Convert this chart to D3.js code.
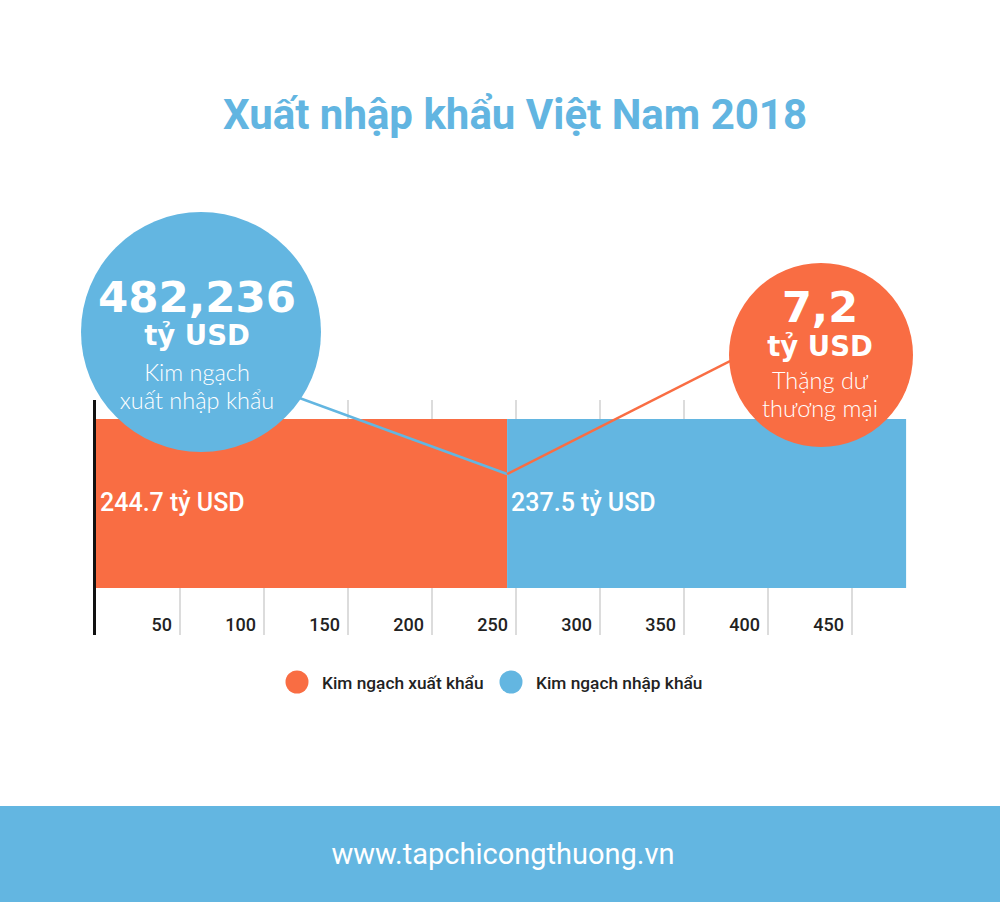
<!DOCTYPE html>
<html>
<head>
<meta charset="utf-8">
<script src="https://cdn.jsdelivr.net/npm/d3@7/dist/d3.min.js"></script>
<style>
  html, body { margin: 0; padding: 0; background: #fff; }
  svg { display: block; }
</style>
</head>
<body>
<svg id="chart" width="1000" height="902"></svg>
<script>
// ---- data ----
const title = "Xuất nhập khẩu Việt Nam 2018";
const seriesNames = ["Kim ngạch xuất khẩu", "Kim ngạch nhập khẩu"];
const seriesValues = [244.7, 237.5];
const barLabels = ["244.7 tỷ USD", "237.5 tỷ USD"];
const tickValues = [50, 100, 150, 200, 250, 300, 350, 400, 450];
const totalLines = ["482,236", "tỷ USD", "Kim ngạch", "xuất nhập khẩu"];
const surplusLines = ["7,2", "tỷ USD", "Thặng dư", "thương mại"];
const footerText = "www.tapchicongthuong.vn";

const ORANGE = "#f96d43", BLUE = "#63b6e1";
const colors = [ORANGE, BLUE];

const svg = d3.select("#chart");

// title
svg.append("text").attr("x", 515).attr("y", 129).attr("text-anchor", "middle")
  .attr("font-family", "Roboto").attr("font-weight", 700).attr("font-size", 42)
  .attr("fill", "#62b5e1").text(title);

// scales
const x = d3.scaleLinear().domain([0, 500]).range([96, 936]);
const barTop = 419, barBottom = 588;

// gridlines
svg.append("g").selectAll("line").data(tickValues).join("line")
  .attr("x1", d => x(d)).attr("x2", d => x(d))
  .attr("y1", 400).attr("y2", 635)
  .attr("stroke", "#dcdcdc").attr("stroke-width", 2);

// tick labels
svg.append("g").selectAll("text").data(tickValues).join("text")
  .attr("x", d => x(d) - 8).attr("y", 631).attr("text-anchor", "end")
  .attr("font-family", "Roboto").attr("font-weight", 500).attr("font-size", 18)
  .attr("fill", "#222").text(d => d);

// stacked bars
let acc = 0;
const stack = seriesValues.map((v, i) => { const s = acc; acc += v; return {i, v, s, e: acc}; });
svg.append("g").selectAll("rect").data(stack).join("rect")
  .attr("x", d => x(d.s)).attr("width", d => x(d.e) - x(d.s))
  .attr("y", barTop).attr("height", barBottom - barTop)
  .attr("fill", d => colors[d.i]);

// bar labels
svg.append("g").selectAll("text").data(stack).join("text")
  .attr("x", d => x(d.s) + 4).attr("y", 511)
  .attr("font-family", "Roboto").attr("font-weight", 500).attr("font-size", 25)
  .attr("fill", "#fff").text(d => barLabels[d.i]);

// axis line
svg.append("line").attr("x1", 94.5).attr("x2", 94.5).attr("y1", 400).attr("y2", 635)
  .attr("stroke", "#111").attr("stroke-width", 3);

// connectors
const vx = x(seriesValues[0]), vy = 474;
const c1 = {cx: 201, cy: 332, r: 120};
const c2 = {cx: 821, cy: 355, r: 92};
svg.append("line").attr("x1", c1.cx).attr("y1", c1.cy + 30).attr("x2", vx).attr("y2", vy)
  .attr("stroke", BLUE).attr("stroke-width", 2.5);
svg.append("line").attr("x1", vx).attr("y1", vy).attr("x2", c2.cx).attr("y2", c2.cy - 40)
  .attr("stroke", ORANGE).attr("stroke-width", 2.5);

// circles
function bubble(c, color, lines, cfg) {
  svg.append("circle").attr("cx", c.cx).attr("cy", c.cy).attr("r", c.r).attr("fill", color);
  const g = svg.append("g");
  lines.forEach((t, i) => {
    g.append("text").attr("x", cfg.tx).attr("y", cfg.ys[i]).attr("text-anchor", "middle")
      .attr("font-family", cfg.fam[i]).attr("font-weight", cfg.w[i]).attr("font-size", cfg.fs[i])
      .attr("fill", "#fff").text(t);
  });
}
bubble(c1, BLUE, totalLines, {
  tx: 197, ys: [312, 345, 381, 409],
  fam: ["DejaVu Sans", "DejaVu Sans", "Lato", "Lato"],
  w: [700, 700, 300, 300], fs: [43.5, 27.5, 23.5, 23.5]
});
bubble(c2, ORANGE, surplusLines, {
  tx: 820, ys: [322, 356, 389, 417],
  fam: ["DejaVu Sans", "DejaVu Sans", "Lato", "Lato"],
  w: [700, 700, 300, 300], fs: [43, 27.5, 23.5, 23.5]
});

// legend
const legX = [297, 511];
const leg = svg.append("g").selectAll("g").data(seriesNames).join("g");
leg.append("circle").attr("cx", (d, i) => legX[i]).attr("cy", 682).attr("r", 11.5)
  .attr("fill", (d, i) => colors[i]);
leg.append("text").attr("x", (d, i) => legX[i] + 25).attr("y", 689)
  .attr("font-family", "Roboto").attr("font-weight", 500).attr("font-size", 17.3)
  .attr("fill", "#222").text(d => d);

// footer
svg.append("rect").attr("x", 0).attr("y", 806).attr("width", 1000).attr("height", 96).attr("fill", BLUE);
svg.append("text").attr("x", 503).attr("y", 864).attr("text-anchor", "middle")
  .attr("font-family", "Roboto").attr("font-weight", 400).attr("font-size", 29)
  .attr("fill", "#fff").text(footerText);
</script>
</body>
</html>
